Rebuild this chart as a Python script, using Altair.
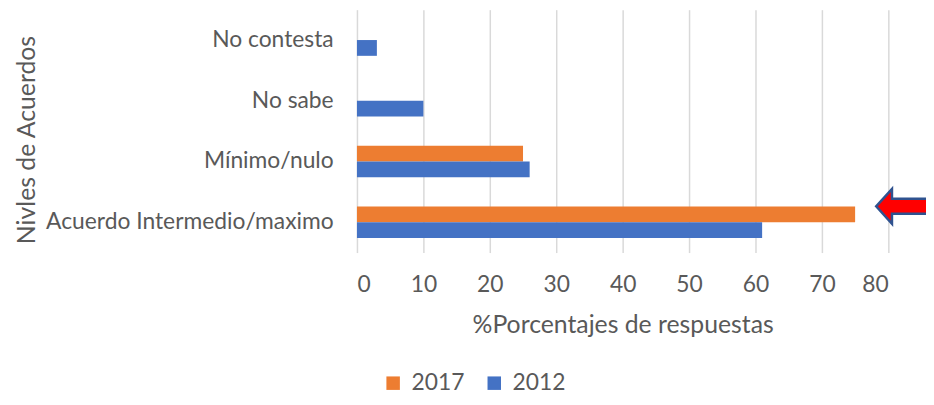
import altair as alt
import pandas as pd

# ---- data ----
categories = ["No contesta", "No sabe", "Mínimo/nulo", "Acuerdo Intermedio/maximo"]
years = ["2017", "2012"]
values_2017 = [None, None, 25, 75]
values_2012 = [3, 10, 26, 61]
x_ticks = [0, 10, 20, 30, 40, 50, 60, 70, 80]
year_colors = ["#ED7D31", "#4472C4"]

# annotation arrow (points at the 2017 "Acuerdo" bar)
arrow_category = ["Acuerdo Intermedio/maximo"]
arrow_value = [82.2]

rows = []
for cat, v17, v12 in zip(categories, values_2017, values_2012):
    if v17 is not None:
        rows.append({"nivel": cat, "anio": "2017", "pct": v17})
    if v12 is not None:
        rows.append({"nivel": cat, "anio": "2012", "pct": v12})
df = pd.DataFrame(rows)
arrow_df = pd.DataFrame({"nivel": arrow_category, "pct": arrow_value})

FONT = "Lato"
GREY = "#595959"

y_enc = alt.Y(
    "nivel:N",
    sort=categories,
    scale=alt.Scale(paddingInner=0.48, paddingOuter=0.24),
    axis=alt.Axis(
        title="Nivles de Acuerdos",
        titleAngle=270,
        titleX=-333,
        titleY=131,
        titleAlign="center",
        titleBaseline="middle",
        labelPadding=24,
        labelLimit=400,
        ticks=False,
        domain=False,
    ),
)

bars = alt.Chart(df).mark_bar().encode(
    x=alt.X(
        "pct:Q",
        scale=alt.Scale(domain=[0, 80], nice=False),
        axis=alt.Axis(
            values=x_ticks,
            title="%Porcentajes de respuestas",
            titleY=73,
            titleBaseline="middle",
            grid=True,
            domain=False,
            ticks=False,
            tickSize=0,
            labelBaseline="middle",
            labelPadding=32,
        ),
    ),
    y=y_enc,
    yOffset=alt.YOffset("anio:N", sort=years, scale=alt.Scale(domain=years, paddingInner=0, paddingOuter=0)),
    color=alt.Color(
        "anio:N",
        scale=alt.Scale(domain=years, range=year_colors),
        legend=alt.Legend(
            title=None,
            orient="none",
            direction="horizontal",
            legendX=25,
            legendY=365,
            symbolType="square",
            symbolSize=185,
            symbolStrokeWidth=0,
            symbolOpacity=1,
            labelOffset=7,
            columnPadding=18,
            padding=0,
        ),
    ),
)

arrow_path = "M -1 0 L -0.41 -0.65 L -0.41 -0.28 L 1 -0.28 L 1 0.28 L -0.41 0.28 L -0.41 0.65 Z"
arrow = alt.Chart(arrow_df).mark_point(
    shape=arrow_path,
    size=2916,
    filled=True,
    fill="#FF0000",
    stroke="#2F528F",
    strokeWidth=2.5,
    opacity=1,
    yOffset=-16,
).encode(
    x=alt.X("pct:Q"),
    y=alt.Y("nivel:N", sort=categories),
)

chart = (
    alt.layer(bars, arrow)
    .properties(
        width=536,
        height=245,
        autosize=alt.AutoSizeParams(type="none"),
        padding={"left": 352, "top": 0, "right": 38, "bottom": 144},
    )
    .configure_view(stroke=None)
    .configure_axis(
        labelFont=FONT,
        titleFont=FONT,
        labelColor=GREY,
        titleColor=GREY,
        labelFontSize=23,
        titleFontSize=25,
        titleFontWeight="normal",
        gridColor="#D9D9D9",
        gridWidth=1.5,
    )
    .configure_legend(labelFont=FONT, labelFontSize=23, labelColor=GREY)
)

chart.save("out.html", embed_options={"renderer": "svg", "actions": False})
